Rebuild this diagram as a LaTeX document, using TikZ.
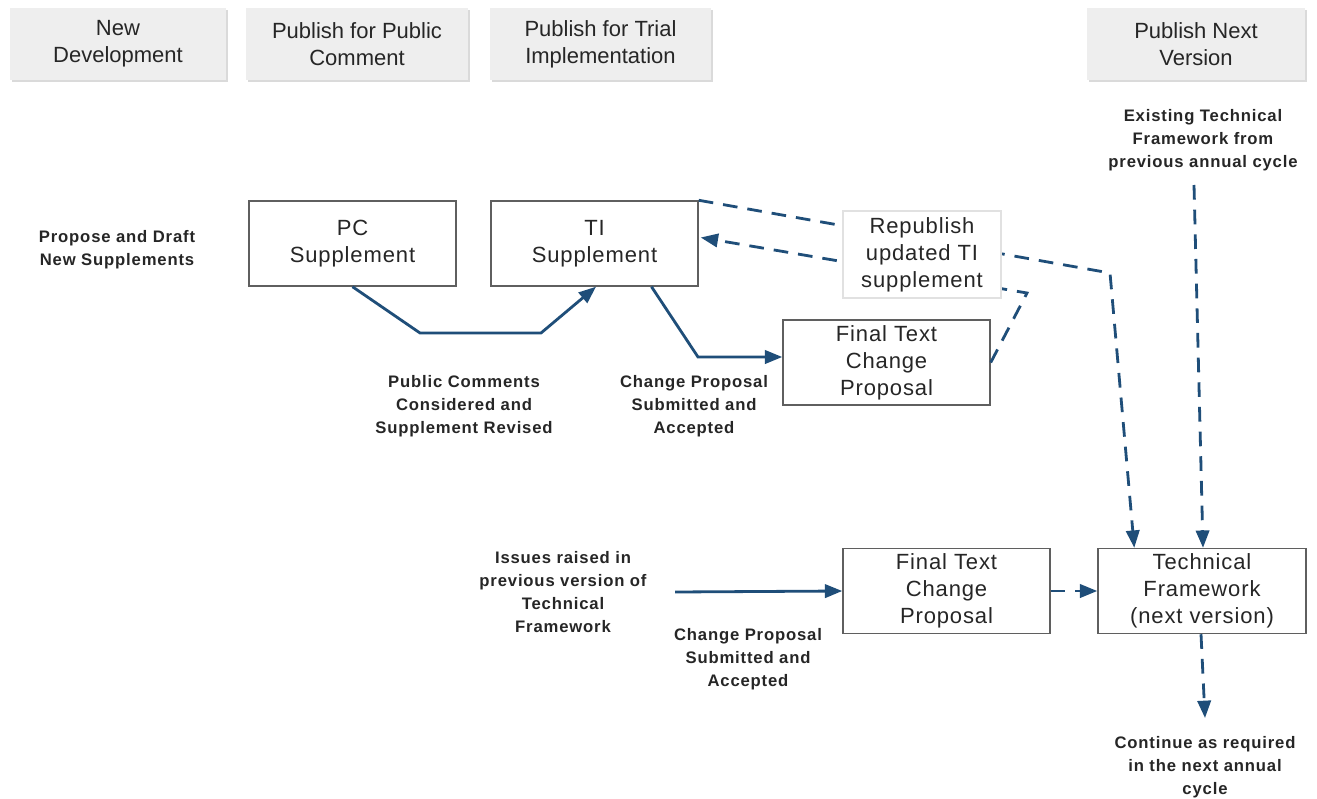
\documentclass[tikz,border=0pt]{standalone}
\usepackage{fontspec}
\setmainfont{Liberation Sans}
\usetikzlibrary{arrows.meta,calc,shadows}
\definecolor{ablue}{RGB}{31,78,121}
\definecolor{hdr}{RGB}{238,238,238}
\definecolor{hdrsh}{RGB}{218,218,218}
\definecolor{boxline}{RGB}{95,95,95}
\definecolor{repline}{RGB}{225,225,225}
\begin{document}
\begin{tikzpicture}[x=0.75pt,y=-0.75pt,
 hdrbox/.style={fill=hdr, minimum height=54pt, inner sep=0pt, align=center,
   font=\fontsize{16.5}{20.25}\selectfont, text=black!85,
   drop shadow={shadow xshift=1.5pt, shadow yshift=-1.5pt, fill=hdrsh, opacity=1}},
 procbox/.style={draw=boxline, line width=1.1pt, fill=white, minimum width=155.25pt,
   minimum height=63.75pt, inner sep=0pt, align=center, text=black!85,
   font=\fontsize{16.5}{20.25}\selectfont\addfontfeatures{LetterSpace=4}},
 lbl/.style={align=center, inner sep=0pt, text=black!85,
   font=\fontsize{12.5}{17.25}\selectfont\bfseries\addfontfeatures{LetterSpace=5}},
 conn/.style={draw=ablue, line width=2.1pt, -{Triangle[length=13pt,width=10pt]}, fill=none},
 dconn/.style={conn, dash pattern=on 11pt off 7.5pt},
]
\useasboundingbox (0,0) rectangle (1317,799);
\fill[white] (0,0) rectangle (1317,799);

% header boxes
\node[hdrbox, minimum width=162pt] (h1) at (118,44) {New\\Development};
\node[hdrbox, minimum width=166.5pt] (h2) at (357,44) {Publish for Public\\Comment};
\node[hdrbox, minimum width=165.75pt] (h3) at (600.5,44) {Publish for Trial\\Implementation};
\node[hdrbox, minimum width=163.5pt] (h4) at (1196,44) {Publish Next\\Version};

% process boxes
\node[procbox] (pc) at (352.5,243.5) {PC\\Supplement};
\node[procbox] (ti) at (594.5,243.5) {TI\\Supplement};
\node[procbox] (ft1) at (886.5,362.5) {Final Text\\Change\\Proposal};
\node[procbox] (ft2) at (946.5,591) {Final Text\\Change\\Proposal};
\node[procbox, minimum width=156pt] (tf) at (1202,591) {Technical\\Framework\\(next version)};

% labels
\node[lbl] (propose) at (117,250) {Propose and Draft\\New Supplements};
\node[lbl] (pubcom) at (464,406) {Public Comments\\Considered and\\Supplement Revised};
\node[lbl] (cp1) at (694,406) {Change Proposal\\Submitted and\\Accepted};
\node[lbl] (issues) at (563,592) {Issues raised in\\previous version of\\Technical\\Framework};
\node[lbl] (cp2) at (748,659) {Change Proposal\\Submitted and\\Accepted};
\node[lbl] (exist) at (1203,140) {Existing Technical\\Framework from\\previous annual cycle};
\node[lbl] (cont) at (1205,767) {Continue as required\\in the next annual\\cycle};

\coordinate (issout) at (675,592);
\coordinate (existout) at (1194,185);
\coordinate (contin) at (1205,718);

% solid connectors
\draw[conn] (pc.south) -- (420,333) -- (541,333) -- ($(ti.south)+(1.5,0)$);
\draw[conn] ($(ti.south)+(57,0)$) -- (698,357) -- ($(ft1.west)+(0,-5.5)$);
\draw[conn] (issout) -- (ft2.west);

% dashed connectors
\draw[dconn] (ti.north east) -- (1110,273) -- ($(tf.north west)+(37,0)$);
\draw[dconn] (ft1.east) -- (1027,293) -- ($(ti.east)+(2,-6)$);
\draw[dconn] (existout) -- ($(tf.north)+(1,0)$);
\draw[dconn] (ft2.east) -- (tf.west);
\draw[dconn] ($(tf.south)+(-1,0)$) -- (contin);

% republish box (on top of dashed lines)
\node[procbox, draw=repline, line width=0.8pt, minimum width=118.5pt, minimum height=65.25pt] (rep) at (922,254.5) {Republish\\updated TI\\supplement};
\end{tikzpicture}
\end{document}
